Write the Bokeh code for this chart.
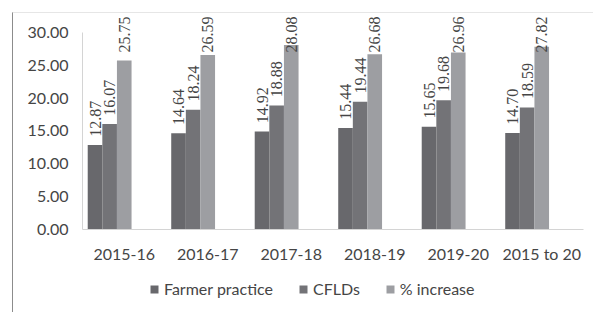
from bokeh.plotting import figure
from bokeh.layouts import column
from bokeh.models import (ColumnDataSource, FactorRange, Range1d, LabelSet, Legend,
                          LegendItem, NumeralTickFormatter, FixedTicker)
from bokeh.transform import dodge
from bokeh.embed import file_html
from bokeh.resources import INLINE

# ---- data ----
years = ["2015-16", "2016-17", "2017-18", "2018-19", "2019-20", "2015 to 20"]
farmer_practice = [12.87, 14.64, 14.92, 15.44, 15.65, 14.70]
cflds = [16.07, 18.24, 18.88, 19.44, 19.68, 18.59]
pct_increase = [25.75, 26.59, 28.08, 26.68, 26.96, 27.82]
series_names = ["Farmer practice", "CFLDs", "% increase"]
y_ticks = [0, 5, 10, 15, 20, 25, 30]

colors = ["#68686c", "#737377", "#9d9ea2"]
offsets = [-0.35, -0.175, 0.0]
bar_w = 0.175
FONT = "Lato"
TXT = "#454545"
Y_END = 32.74          # top of the plotting area (data units)
LABEL_GAP = 0.45       # gap between bar top and its label (data units)
LABEL_LEN = 6.3        # approx. length of a rotated value label (data units)
LABEL_MAX = 32.45      # labels are kept inside the chart area, as Excel does

series = [farmer_practice, cflds, pct_increase]
cols = dict(x=years)
for i, vals in enumerate(series):
    cols["s%d" % i] = vals
    cols["l%d" % i] = [f"{v:.2f}" for v in vals]
    cols["t%d" % i] = [min(v + LABEL_GAP + LABEL_LEN, LABEL_MAX) for v in vals]
src = ColumnDataSource(cols)

p = figure(x_range=FactorRange(*years), y_range=Range1d(0, Y_END),
           width=580, height=253, output_backend="svg", toolbar_location=None,
           min_border_left=69, min_border_right=10, min_border_top=1,
           min_border_bottom=37)
p.outline_line_color = None
p.xgrid.grid_line_color = None
p.ygrid.grid_line_color = None
p.x_range.range_padding = 0

for i in range(3):
    p.vbar(x=dodge("x", offsets[i], range=p.x_range), top="s%d" % i, width=bar_w,
           source=src, fill_color=colors[i], line_color=None)
    lbl = LabelSet(x=dodge("x", offsets[i], range=p.x_range), y="t%d" % i,
                   text="l%d" % i, source=src, angle=1.5708, text_align="right",
                   text_baseline="middle", text_font=FONT, text_font_size="16px",
                   text_color=TXT)
    p.add_layout(lbl)

p.yaxis.bounds = (0, 30)
p.yaxis.ticker = FixedTicker(ticks=y_ticks)
p.yaxis.formatter = NumeralTickFormatter(format="0.00")
p.yaxis.major_tick_line_color = None
p.yaxis.major_tick_out = 0
p.yaxis.minor_tick_line_color = None
p.yaxis.axis_line_color = "#d4d4d4"
p.yaxis.major_label_standoff = 14
p.yaxis.major_label_text_font = FONT
p.yaxis.major_label_text_font_size = "16px"
p.yaxis.major_label_text_color = TXT

p.xaxis.major_tick_line_color = None
p.xaxis.major_tick_out = 0
p.xaxis.minor_tick_line_color = None
p.xaxis.axis_line_color = "#d4d4d4"
p.xaxis.major_label_standoff = 14
p.xaxis.major_label_text_font = FONT
p.xaxis.major_label_text_font_size = "16px"
p.xaxis.major_label_text_color = TXT

# ---- legend strip (separate small figure below the chart) ----
lf = figure(width=580, height=46, output_backend="svg", toolbar_location=None,
            x_range=Range1d(0, 1), y_range=Range1d(0, 1),
            x_axis_location=None, y_axis_location=None, min_border=0)
lf.outline_line_color = None
lf.xgrid.grid_line_color = None
lf.ygrid.grid_line_color = None
swatch = ColumnDataSource(dict(x=[-5.0], top=[-5.0]))   # off-screen, only for swatches
leg_r = [lf.vbar(x="x", top="top", width=0.1, source=swatch,
                 fill_color=colors[i], line_color=None) for i in range(3)]
legend = Legend(items=[LegendItem(label=series_names[i], renderers=[leg_r[i]])
                       for i in range(3)],
                orientation="horizontal", location=(67, 14),
                glyph_width=10, glyph_height=10, label_standoff=5, spacing=25,
                padding=0, margin=0, border_line_color=None, background_fill_alpha=0,
                label_text_font=FONT, label_text_font_size="16px", label_text_color=TXT,
                label_height=12)
lf.add_layout(legend, "center")

layout = column(p, lf, spacing=0)
layout.styles = {"margin-left": "12px", "margin-top": "12px",
                 "border-left": "1px solid #8c8c8c", "border-top": "1px solid #e6e6e6"}
open("out.html", "w").write(file_html(layout, INLINE))
